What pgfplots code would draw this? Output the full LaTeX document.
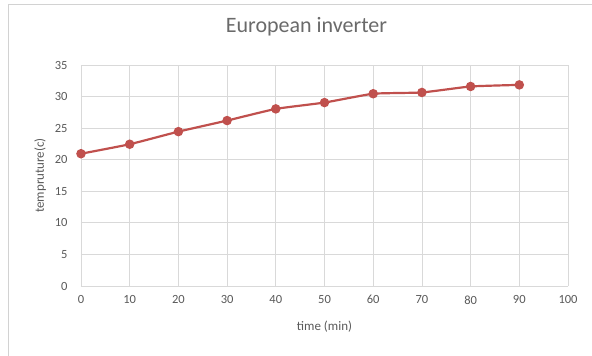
\documentclass[border=0pt]{standalone}
\usepackage{pgfplots}
\pgfplotsset{compat=1.18}
\usepackage{fontspec}
\setmainfont{Carlito}
\definecolor{serieRed}{HTML}{C0504D}
\definecolor{txtGray}{HTML}{595959}
\definecolor{gridGray}{HTML}{D9D9D9}
\begin{document}
\begin{tikzpicture}
% fixed page frame around the plot area
\path[use as bounding box] (-81bp,-70bp) rectangle (511bp,286bp);
\draw[gray!35, line width=0.8pt] (-73bp,-90bp) -- (-73bp,282bp) -- (530bp,282bp);
\begin{axis}[
  scale only axis,
  width=487bp, height=221bp,
  xmin=0, xmax=100, ymin=0, ymax=35,
  xtick={0,10,...,100}, ytick={0,5,...,35},
  grid=major,
  major grid style={draw=gridGray, line width=0.75pt},
  axis line style={draw=none},
  axis x line*=bottom, axis y line*=left,
  tick style={draw=none},
  ticklabel style={font=\fontsize{12.5bp}{14bp}\selectfont, text=txtGray},
  /pgf/number format/assume math mode=true,
  xticklabel style={yshift=-6bp},
  yticklabel style={xshift=-10bp},
  title={European inverter},
  title style={font=\fontsize{22bp}{25bp}\selectfont, text=txtGray!90,
    at={(0.463,1.145)}, anchor=center},
  xlabel={time (min)},
  ylabel={tempruture(c)},
  label style={font=\fontsize{13bp}{15bp}\selectfont, text=txtGray},
  xlabel style={at={(0.5,-0.186)}, anchor=center},
  ylabel style={at={(-0.084,0.5)}, anchor=center, rotate=0},
  clip=false,
]
\draw[gridGray, line width=0.9pt] (axis cs:0,0) -- (axis cs:100,0);
\addplot[serieRed, line width=2.2pt, smooth, tension=0.25,
  mark=*, mark size=3.6bp, mark options={fill=serieRed, draw=serieRed}]
  coordinates {
  (0,20.95) (10,22.45) (20,24.45) (30,26.2) (40,28.05)
  (50,29.05) (60,30.45) (70,30.65) (80,31.6) (90,31.85)
  };
\end{axis}
\end{tikzpicture}
\end{document}
